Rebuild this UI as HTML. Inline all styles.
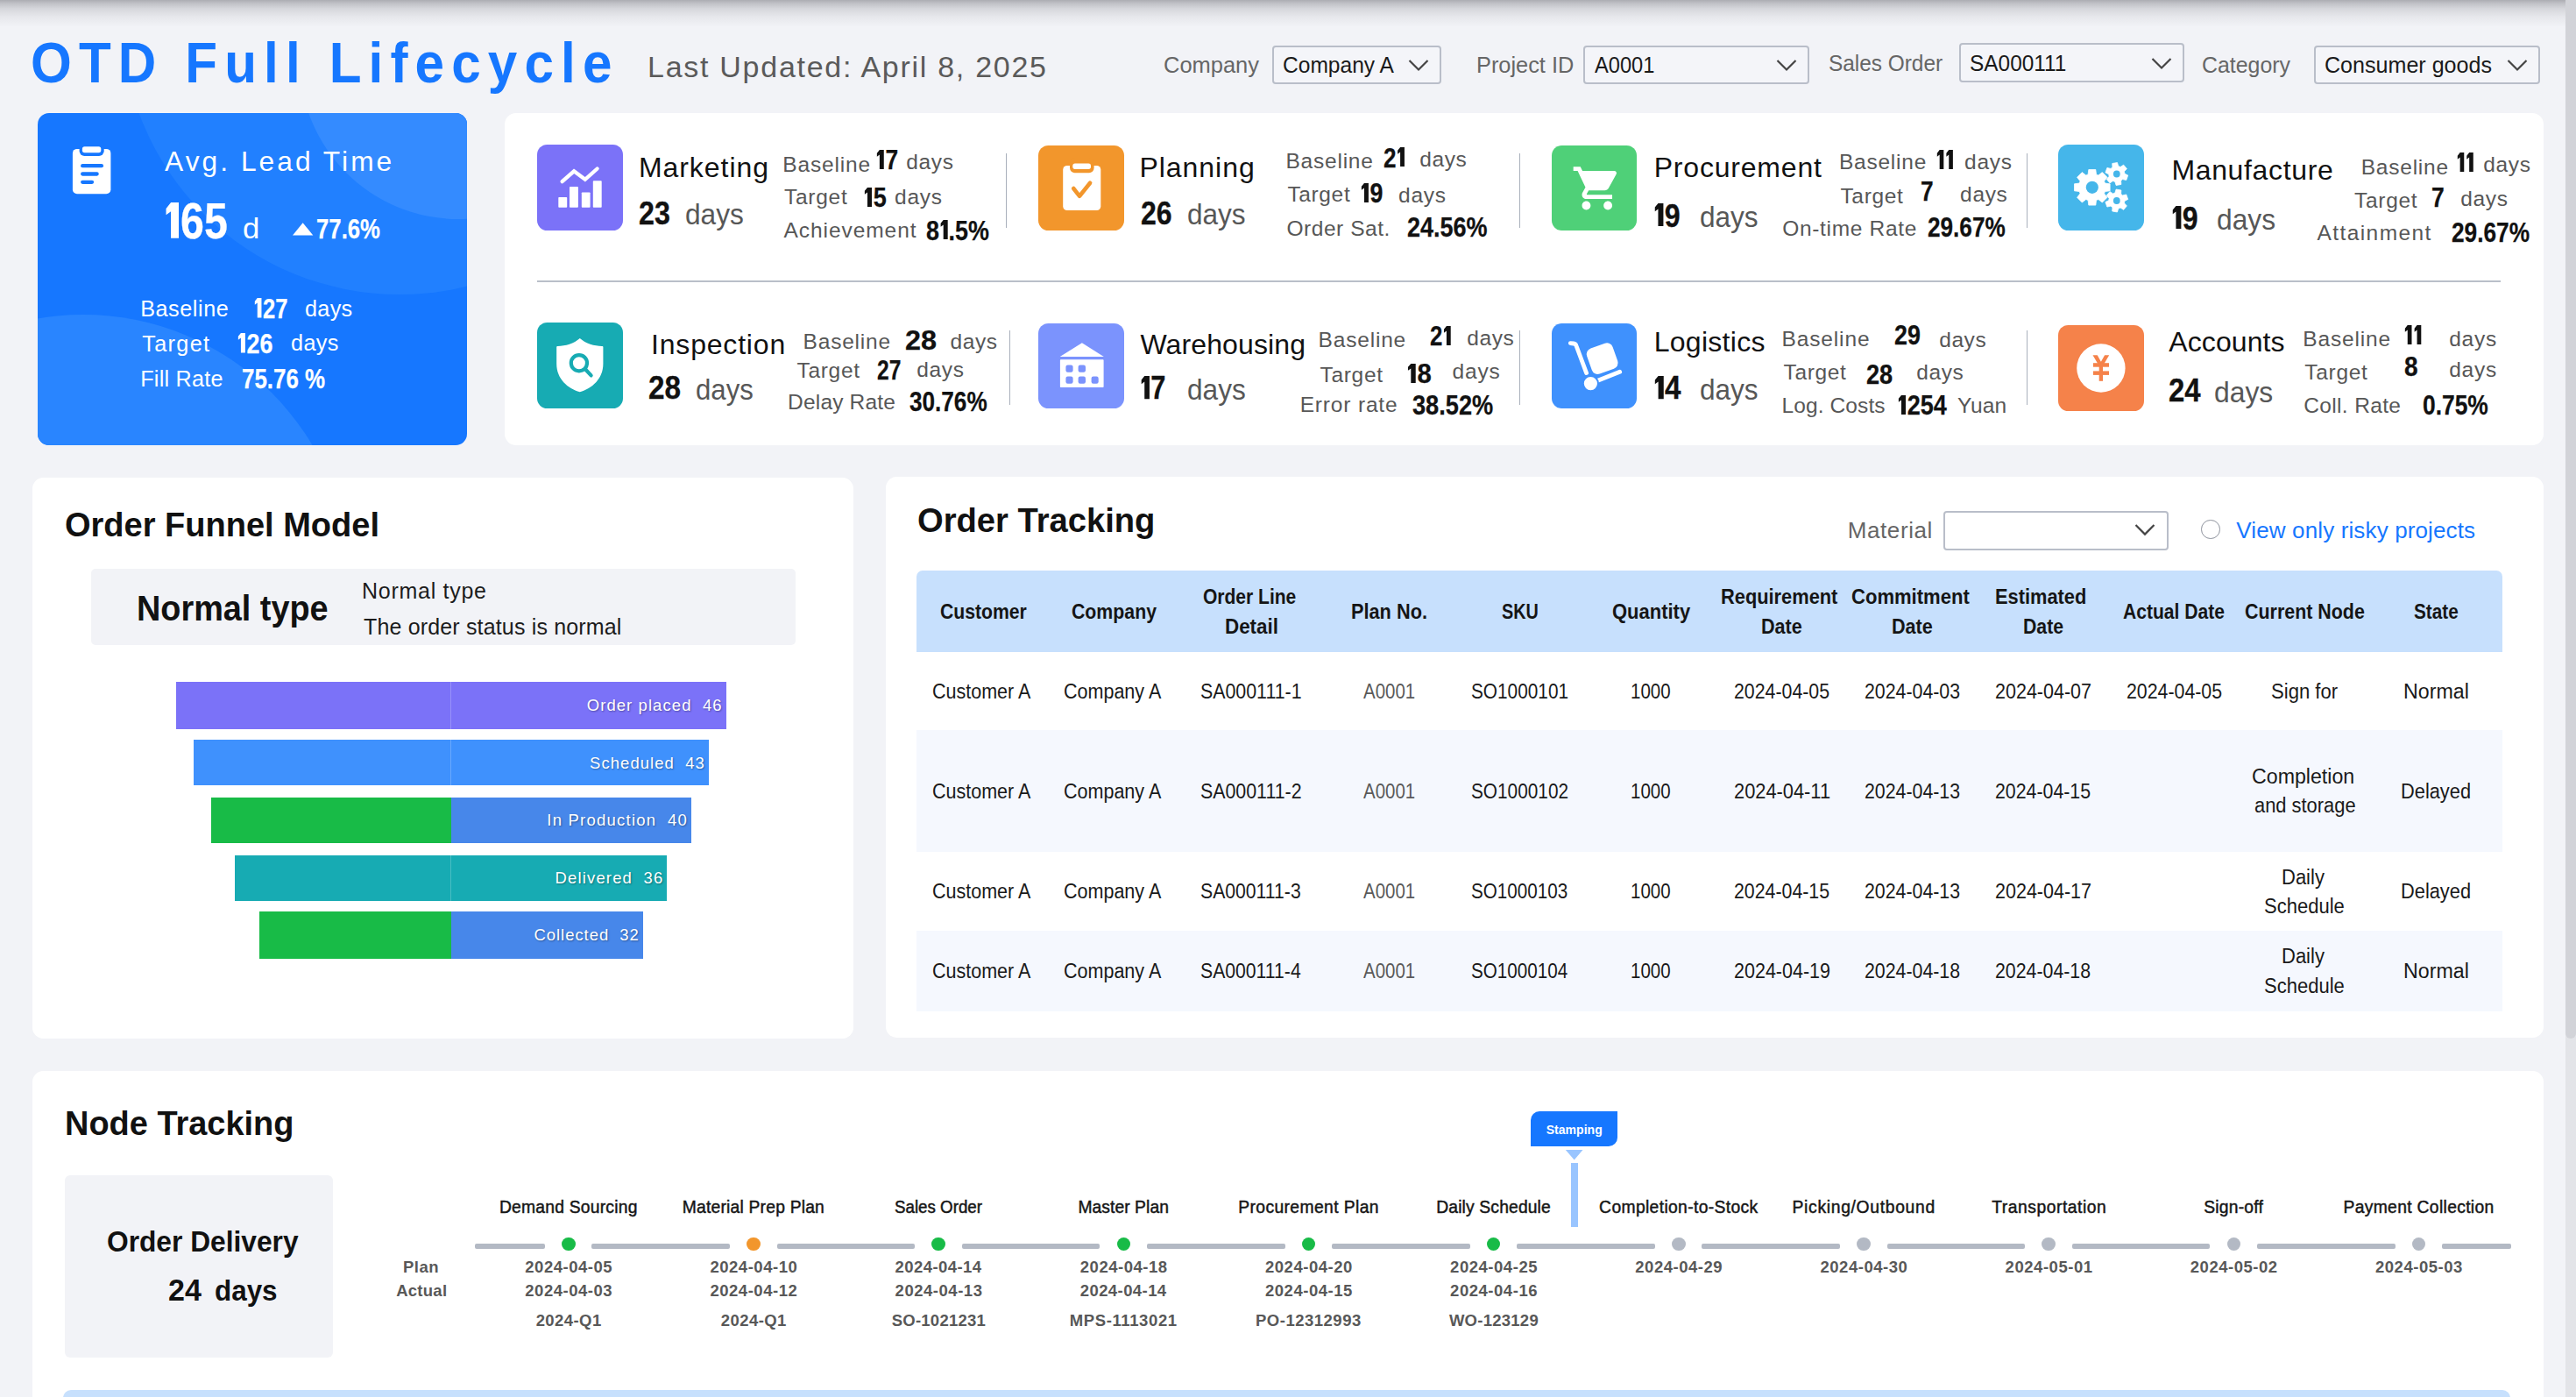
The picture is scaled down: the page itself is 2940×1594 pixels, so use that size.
<!DOCTYPE html><html><head><meta charset="utf-8"><title>OTD Full Lifecycle</title><style>

*{margin:0;padding:0;box-sizing:border-box}
html,body{width:2940px;height:1594px;overflow:hidden;background:#f2f3f7;font-family:"Liberation Sans",sans-serif;}
#root{position:relative;width:2940px;height:1594px;overflow:hidden}
.t{position:absolute;white-space:nowrap;line-height:1;transform-origin:0 50%}
svg{position:absolute;overflow:visible}
@media (max-width:1600px){#root{transform:scale(.5);transform-origin:0 0}}
svg.g1{position:static;display:inline-block;height:.716em;width:.3em;margin:0 .05em 0 .045em;vertical-align:baseline;fill:currentColor}

</style></head><body><div id="root">
<div style="position:absolute;left:0;top:0;width:2940px;height:30px;background:linear-gradient(to bottom,rgba(10,10,20,.30) 0,rgba(10,10,20,.21) 4px,rgba(10,10,20,.12) 10px,rgba(10,10,20,.05) 19px,rgba(10,10,20,0) 31px)"></div>
<div style="position:absolute;left:1452px;top:52px;width:193px;height:44px;border:2px solid #b9bec9;border-radius:4px;background:#f4f5f9"></div>
<svg style="left:1607px;top:67.0px" width="24" height="16" viewBox="0 0 24 16"><polyline points="1.5,2 12,12.5 22.5,2" fill="none" stroke="#444" stroke-width="2.2"/></svg>
<div style="position:absolute;left:1807px;top:52px;width:258px;height:44px;border:2px solid #b9bec9;border-radius:4px;background:#f4f5f9"></div>
<svg style="left:2027px;top:67.0px" width="24" height="16" viewBox="0 0 24 16"><polyline points="1.5,2 12,12.5 22.5,2" fill="none" stroke="#444" stroke-width="2.2"/></svg>
<div style="position:absolute;left:2236px;top:49px;width:257px;height:45px;border:2px solid #b9bec9;border-radius:4px;background:#f4f5f9"></div>
<svg style="left:2455px;top:64.5px" width="24" height="16" viewBox="0 0 24 16"><polyline points="1.5,2 12,12.5 22.5,2" fill="none" stroke="#444" stroke-width="2.2"/></svg>
<div style="position:absolute;left:2641px;top:52px;width:258px;height:44px;border:2px solid #b9bec9;border-radius:4px;background:#f4f5f9"></div>
<svg style="left:2861px;top:67.0px" width="24" height="16" viewBox="0 0 24 16"><polyline points="1.5,2 12,12.5 22.5,2" fill="none" stroke="#444" stroke-width="2.2"/></svg>
<div style="position:absolute;left:2928px;top:0;width:12px;height:1594px;background:#e3e4e8"></div>
<div style="position:absolute;left:2928px;top:-8px;width:12px;height:1193px;background:#d2d3d8;border-radius:6px"></div>
<div style="position:absolute;left:43px;top:129px;width:490px;height:379px;border-radius:13px;background:#1677ff;overflow:hidden">
<div style="position:absolute;left:96.4px;top:-425.8px;width:633.2px;height:633.2px;border-radius:50%;background:#2180ff"></div>
<div style="position:absolute;left:299px;top:-241px;width:362px;height:362px;border-radius:50%;background:#348bff"></div>
<div style="position:absolute;left:-251.8px;top:230.2px;width:608px;height:608px;border-radius:50%;background:#2985ff"></div>
</div>
<svg style="left:80px;top:164px" width="50" height="60" viewBox="80 164 50 60">
<rect x="82.9" y="169.9" width="43.5" height="51.3" rx="5" fill="#fff"/>
<rect x="90.6" y="160" width="28.1" height="17.9" rx="5.7" fill="#1677ff"/>
<rect x="93.9" y="167.3" width="21.4" height="6.9" rx="2.6" fill="#fff"/>
<g stroke="#1677ff" stroke-width="4.3" stroke-linecap="round"><line x1="94.2" y1="189.2" x2="115.9" y2="189.2"/><line x1="94.2" y1="198.5" x2="110.6" y2="198.5"/><line x1="94.2" y1="207.8" x2="105" y2="207.8"/></g>
</svg>
<svg style="left:333px;top:253px" width="26" height="16" viewBox="0 0 26 16"><polygon points="1,15.5 12.65,1.2 24.3,15.5" fill="#fff"/></svg>
<div style="position:absolute;left:576px;top:129px;width:2327px;height:379px;background:#fff;border-radius:13px;"></div>
<div style="position:absolute;left:613px;top:319.7px;width:2240.5px;height:2px;background:#b9bfc9;border-radius:0px;"></div>
<div style="position:absolute;left:1148.3px;top:175px;width:1.2px;height:85px;background:#a9b0bc;border-radius:0px;"></div>
<div style="position:absolute;left:1733.5px;top:175px;width:1.2px;height:85px;background:#a9b0bc;border-radius:0px;"></div>
<div style="position:absolute;left:2312.5px;top:175px;width:1.2px;height:85px;background:#a9b0bc;border-radius:0px;"></div>
<div style="position:absolute;left:1152px;top:377px;width:1.2px;height:84.5px;background:#a9b0bc;border-radius:0px;"></div>
<div style="position:absolute;left:1733.5px;top:377px;width:1.2px;height:84.5px;background:#a9b0bc;border-radius:0px;"></div>
<div style="position:absolute;left:2312.5px;top:377px;width:1.2px;height:84.5px;background:#a9b0bc;border-radius:0px;"></div>
<div style="position:absolute;left:613px;top:165px;width:98px;height:98px;border-radius:11.5px;background:#7b72f8"></div>
<svg style="left:613px;top:165px" width="98" height="98" viewBox="0 0 98 98"><g fill="#fff"><rect x="24.3" y="60" width="9.9" height="11.8" rx="0.8"/><rect x="37" y="47.9" width="9.9" height="23.9" rx="0.8"/><rect x="50.8" y="54.4" width="9.8" height="17.4" rx="0.8"/><rect x="63.8" y="41.2" width="9.9" height="30.6" rx="0.8"/></g>
<polyline points="28.6,42.1 42.1,30.3 54.8,39.8 68.6,27.5" fill="none" stroke="#fff" stroke-width="4.3" stroke-linecap="round" stroke-linejoin="miter"/></svg>
<div style="position:absolute;left:1185.3px;top:165.6px;width:97.5px;height:97.5px;border-radius:11.5px;background:#f2962c"></div>
<svg style="left:1185.3px;top:165.6px" width="97.5" height="97.5" viewBox="0 0 97.5 97.5"><rect x="28.2" y="23" width="43.1" height="51.1" rx="4.6" fill="#fff"/>
<rect x="36" y="14" width="27.6" height="17.2" rx="5.6" fill="#f2962c"/>
<rect x="39.3" y="20.6" width="20.7" height="6.3" rx="2.6" fill="#fff"/>
<polyline points="40.2,49 47.1,57.8 59.1,42.8" fill="none" stroke="#f2962c" stroke-width="4.6" stroke-linecap="round" stroke-linejoin="round"/></svg>
<div style="position:absolute;left:1771px;top:165.8px;width:97px;height:97px;border-radius:11.5px;background:#4fd078"></div>
<svg style="left:1771px;top:165.8px" width="97" height="97" viewBox="0 0 97 97"><g transform="translate(22.2,19.2) scale(2.465)" fill="#fff"><path d="M7 18c-1.1 0-1.99.9-1.99 2S5.900 22 7 22s2-.9 2-2-.9-2-2-2zM1 2v2h2l3.600 7.590-1.350 2.450c-.16.28-.25.61-.25.96 0 1.100.9 2 2 2h12v-2H7.420c-.14 0-.25-.11-.25-.25l.03-.12.9-1.630h7.450c.75 0 1.410-.41 1.750-1.030l3.580-6.490c.08-.14.12-.31.12-.48 0-.55-.45-1-1-1H5.210l-.94-2H1zm16 16c-1.100 0-1.990.9-1.990 2s.89 2 1.990 2 2-.9 2-2-.9-2-2-2z"/></g></svg>
<div style="position:absolute;left:2349px;top:165px;width:98px;height:98px;border-radius:11.5px;background:#45b6ea"></div>
<svg style="left:2349px;top:165px" width="98" height="98" viewBox="0 0 98 98"><polygon points="34.10,34.13 34.80,28.49 42.80,28.49 43.50,34.13 45.85,35.11 50.33,31.61 55.99,37.27 52.49,41.75 53.47,44.10 59.11,44.80 59.11,52.80 53.47,53.50 52.49,55.85 55.99,60.33 50.33,65.99 45.85,62.49 43.50,63.47 42.80,69.11 34.80,69.11 34.10,63.47 31.75,62.49 27.27,65.99 21.61,60.33 25.11,55.85 24.13,53.50 18.49,52.80 18.49,44.80 24.13,44.10 25.11,41.75 21.61,37.27 27.27,31.61 31.75,35.11" fill="#fff" stroke="#fff" stroke-width="0.8" stroke-linejoin="round"/><circle cx="38.8" cy="48.8" r="7.1" fill="#45b6ea"/><polygon points="61.99,25.78 61.74,21.52 67.46,20.52 68.68,24.60 71.08,25.47 74.64,23.13 78.37,27.58 75.45,30.68 75.89,33.19 79.70,35.11 77.72,40.56 73.57,39.58 71.61,41.22 71.86,45.48 66.14,46.48 64.92,42.40 62.52,41.53 58.96,43.87 55.23,39.42 58.15,36.32 57.71,33.81 53.90,31.89 55.88,26.44 60.03,27.42" fill="#fff" stroke="#fff" stroke-width="0.8" stroke-linejoin="round"/><circle cx="66.8" cy="33.5" r="3.9" fill="#45b6ea"/><polygon points="68.68,72.90 67.46,76.98 61.74,75.98 61.99,71.72 60.03,70.08 55.88,71.06 53.90,65.61 57.71,63.69 58.15,61.18 55.23,58.08 58.96,53.63 62.52,55.97 64.92,55.10 66.14,51.02 71.86,52.02 71.61,56.28 73.57,57.92 77.72,56.94 79.70,62.39 75.89,64.31 75.45,66.82 78.37,69.92 74.64,74.37 71.08,72.03" fill="#fff" stroke="#fff" stroke-width="0.8" stroke-linejoin="round"/><circle cx="66.8" cy="64.0" r="3.9" fill="#45b6ea"/></svg>
<div style="position:absolute;left:613px;top:368px;width:98px;height:98px;border-radius:11.5px;background:#17abb3"></div>
<svg style="left:613px;top:368px" width="98" height="98" viewBox="0 0 98 98"><path d="M48.8 18 C42 24 32 27 23.2 26.9 Q22.2 26.9 22.2 28 L22.2 47 C22.2 64.5 35 75.2 48.8 79.3 C62.6 75.2 75.4 64.5 75.4 47 L75.4 28 Q75.4 26.9 74.4 26.9 C65.6 27 55.6 24 48.8 18 Z" fill="#fff"/>
<circle cx="47.9" cy="46.2" r="9.1" fill="none" stroke="#17abb3" stroke-width="4.2"/><line x1="55" y1="53.3" x2="61.6" y2="60.4" stroke="#17abb3" stroke-width="4.2" stroke-linecap="round"/></svg>
<div style="position:absolute;left:1185.3px;top:368.8px;width:97.5px;height:97.5px;border-radius:11.5px;background:#7b93fd"></div>
<svg style="left:1185.3px;top:368.8px" width="97.5" height="97.5" viewBox="0 0 97.5 97.5"><polygon points="49.9,22.2 24.7,38.1 74.8,38.1" fill="#fff"/><rect x="24.9" y="41.2" width="49.7" height="31.9" rx="0.8" fill="#fff"/>
<g fill="#7b93fd"><rect x="31.4" y="47.5" width="8.2" height="8.2" rx="2.2"/><rect x="45.6" y="47.5" width="8.4" height="8.2" rx="2.2"/><rect x="31.4" y="60.6" width="8.2" height="8.2" rx="2.2"/><rect x="45.6" y="60.6" width="8.4" height="8.2" rx="2.2"/><rect x="60.6" y="60.6" width="8.1" height="8.2" rx="2.2"/></g></svg>
<div style="position:absolute;left:1771px;top:368.8px;width:97px;height:97px;border-radius:11.5px;background:#3f91fd"></div>
<svg style="left:1771px;top:368.8px" width="97" height="97" viewBox="0 0 97 97"><path d="M21.3 22.6 L25 23 Q27.3 23.3 28 25.5 L39.6 56.6" fill="none" stroke="#fff" stroke-width="4.8" stroke-linecap="round" stroke-linejoin="round"/>
<line x1="44.4" y1="68.6" x2="77.7" y2="55.3" stroke="#fff" stroke-width="4.8" stroke-linecap="round"/>
<circle cx="44.4" cy="68.6" r="8.6" fill="#fff" stroke="#3f91fd" stroke-width="2"/>
<rect x="-15.6" y="-15.4" width="31.2" height="30.8" rx="7" fill="#fff" transform="translate(57.7,40.1) rotate(-19.5)"/></svg>
<div style="position:absolute;left:2349px;top:371px;width:98px;height:98px;border-radius:11.5px;background:#f5824a"></div>
<svg style="left:2349px;top:371px" width="98" height="98" viewBox="0 0 98 98"><circle cx="48.9" cy="49" r="27.7" fill="#fff"/>
<g fill="#f5824a"><polygon points="39.5,34.2 44.7,34.2 48.9,41.8 53.1,34.2 58.2,34.2 51,46.6 46.7,46.6"/><rect x="39.9" y="43.2" width="18.1" height="4.5"/><rect x="39.9" y="52.4" width="18.1" height="4.5"/><rect x="46.7" y="44" width="4.3" height="19.8"/></g></svg>
<div style="position:absolute;left:36.5px;top:544.5px;width:937.5px;height:640px;background:#fff;border-radius:12.5px;"></div>
<div style="position:absolute;left:104px;top:649.4px;width:804px;height:87px;background:#f2f3f7;border-radius:5px;"></div>
<div style="position:absolute;left:201.1px;top:778px;width:627.8px;height:53.5px;background:#7b72f8;border-radius:0px;"></div>
<div style="position:absolute;left:514px;top:778px;width:1px;height:53.5px;background:rgba(255,255,255,.22);border-radius:0px;"></div>
<div style="position:absolute;left:220.9px;top:843.9px;width:587.9px;height:52.0px;background:#3f91fd;border-radius:0px;"></div>
<div style="position:absolute;left:514px;top:843.9px;width:1px;height:52.0px;background:rgba(255,255,255,.22);border-radius:0px;"></div>
<div style="position:absolute;left:240.7px;top:909.9px;width:548.3px;height:52.0px;background:#18bb47;border-radius:0px;"></div>
<div style="position:absolute;left:514.5px;top:909.9px;width:274.5px;height:52.0px;background:#4787ea;border-radius:0px;"></div>
<div style="position:absolute;left:268.4px;top:975.9px;width:492.6px;height:51.80000000000007px;background:#17abb3;border-radius:0px;"></div>
<div style="position:absolute;left:514px;top:975.9px;width:1px;height:51.80000000000007px;background:rgba(255,255,255,.22);border-radius:0px;"></div>
<div style="position:absolute;left:296.2px;top:1040.3px;width:437.40000000000003px;height:53.40000000000009px;background:#18bb47;border-radius:0px;"></div>
<div style="position:absolute;left:514.5px;top:1040.3px;width:219.10000000000002px;height:53.40000000000009px;background:#4787ea;border-radius:0px;"></div>
<div style="position:absolute;left:1011px;top:544px;width:1892px;height:640px;background:#fff;border-radius:12.5px;"></div>
<div style="position:absolute;left:2217.5px;top:582.5px;width:257.5px;height:45.5px;border:2px solid #b9bec9;border-radius:4px;background:#fff"></div>
<svg style="left:2436px;top:597px" width="24" height="16" viewBox="0 0 24 16"><polyline points="1.5,2 12,12.6 22.5,2" fill="none" stroke="#444" stroke-width="2.2"/></svg>
<div style="position:absolute;left:2512.4px;top:593.3px;width:21.6px;height:21.6px;border:1.6px solid #8d929c;border-radius:50%;background:#fff"></div>
<div style="position:absolute;left:1046px;top:651px;width:1810px;height:93.2px;background:#c7e0fd;border-radius:0px;border-radius:7px 7px 0 0;"></div>
<div style="position:absolute;left:1046px;top:832.7px;width:1810px;height:139px;background:#f5f8fe;border-radius:0px;"></div>
<div style="position:absolute;left:1046px;top:1061.5px;width:1810px;height:92.8px;background:#f5f8fe;border-radius:0px;"></div>
<div style="position:absolute;left:36.5px;top:1221.5px;width:2866.5px;height:420px;background:#fff;border-radius:12.5px;"></div>
<div style="position:absolute;left:74px;top:1341px;width:305.7px;height:208.2px;background:#f2f3f7;border-radius:6px;"></div>
<div style="position:absolute;left:72px;top:1586px;width:2793px;height:20px;background:#c7e0fd;border-radius:0px;border-radius:9px 9px 0 0;"></div>
<div style="position:absolute;left:542.4px;top:1418.8px;width:79.5px;height:6.4px;background:#b3b9c4;border-radius:2px;"></div>
<div style="position:absolute;left:641.00px;top:1411.90px;width:15.6px;height:15.6px;border-radius:50%;background:#18bb47"></div>
<div style="position:absolute;left:675.4px;top:1418.8px;width:157.67px;height:6.4px;background:#b3b9c4;border-radius:2px;"></div>
<div style="position:absolute;left:852.17px;top:1411.90px;width:15.6px;height:15.6px;border-radius:50%;background:#f2962c"></div>
<div style="position:absolute;left:886.57px;top:1418.8px;width:157.67px;height:6.4px;background:#b3b9c4;border-radius:2px;"></div>
<div style="position:absolute;left:1063.34px;top:1411.90px;width:15.6px;height:15.6px;border-radius:50%;background:#18bb47"></div>
<div style="position:absolute;left:1097.74px;top:1418.8px;width:157.67px;height:6.4px;background:#b3b9c4;border-radius:2px;"></div>
<div style="position:absolute;left:1274.51px;top:1411.90px;width:15.6px;height:15.6px;border-radius:50%;background:#18bb47"></div>
<div style="position:absolute;left:1308.91px;top:1418.8px;width:157.67px;height:6.4px;background:#b3b9c4;border-radius:2px;"></div>
<div style="position:absolute;left:1485.68px;top:1411.90px;width:15.6px;height:15.6px;border-radius:50%;background:#18bb47"></div>
<div style="position:absolute;left:1520.08px;top:1418.8px;width:157.67px;height:6.4px;background:#b3b9c4;border-radius:2px;"></div>
<div style="position:absolute;left:1696.85px;top:1411.90px;width:15.6px;height:15.6px;border-radius:50%;background:#18bb47"></div>
<div style="position:absolute;left:1731.25px;top:1418.8px;width:157.67px;height:6.4px;background:#b3b9c4;border-radius:2px;"></div>
<div style="position:absolute;left:1908.02px;top:1411.90px;width:15.6px;height:15.6px;border-radius:50%;background:#b3b9c4"></div>
<div style="position:absolute;left:1942.42px;top:1418.8px;width:157.67px;height:6.4px;background:#b3b9c4;border-radius:2px;"></div>
<div style="position:absolute;left:2119.19px;top:1411.90px;width:15.6px;height:15.6px;border-radius:50%;background:#b3b9c4"></div>
<div style="position:absolute;left:2153.59px;top:1418.8px;width:157.67px;height:6.4px;background:#b3b9c4;border-radius:2px;"></div>
<div style="position:absolute;left:2330.36px;top:1411.90px;width:15.6px;height:15.6px;border-radius:50%;background:#b3b9c4"></div>
<div style="position:absolute;left:2364.76px;top:1418.8px;width:157.67px;height:6.4px;background:#b3b9c4;border-radius:2px;"></div>
<div style="position:absolute;left:2541.53px;top:1411.90px;width:15.6px;height:15.6px;border-radius:50%;background:#b3b9c4"></div>
<div style="position:absolute;left:2575.93px;top:1418.8px;width:157.67px;height:6.4px;background:#b3b9c4;border-radius:2px;"></div>
<div style="position:absolute;left:2752.70px;top:1411.90px;width:15.6px;height:15.6px;border-radius:50%;background:#b3b9c4"></div>
<div style="position:absolute;left:2787.1px;top:1418.8px;width:79.4px;height:6.4px;background:#b3b9c4;border-radius:2px;"></div>
<div style="position:absolute;left:1747.1px;top:1268px;width:98.9px;height:40.2px;background:#1677ff;border-radius:0px;border-radius:10px 0 10px 0;"></div>
<svg style="left:1786px;top:1312px" width="22" height="13" viewBox="0 0 22 13"><polygon points="0.8,0.1 20.5,0.1 10.7,11.5" fill="#99c5ff"/></svg>
<div style="position:absolute;left:1793.1px;top:1326.9px;width:7.5px;height:72.9px;background:#99c5ff;border-radius:0px;"></div>
<span class="t" style="left:35.12px;top:40.00px;font-size:64px;color:#1677ff;font-weight:700;letter-spacing:8.669px;transform:scaleX(0.9400);">OTD Full Lifecycle</span>
<span class="t" style="left:739.00px;top:59.30px;font-size:34px;color:#5a5a5a;letter-spacing:1.725px;">Last Updated: April 8, 2025</span>
<span class="t" style="left:1328.02px;top:61.00px;font-size:26px;color:#666;transform:scaleX(0.9794);">Company</span>
<span class="t" style="left:1464.06px;top:61.00px;font-size:26px;color:#1a1a1a;transform:scaleX(0.9447);">Company A</span>
<span class="t" style="left:1684.55px;top:61.00px;font-size:26px;color:#666;transform:scaleX(0.9743);">Project ID</span>
<span class="t" style="left:1820.00px;top:61.00px;font-size:26px;color:#1a1a1a;transform:scaleX(0.9100);">A0001</span>
<span class="t" style="left:2086.56px;top:59.00px;font-size:26px;color:#666;transform:scaleX(0.9380);">Sales Order</span>
<span class="t" style="left:2248.06px;top:59.00px;font-size:26px;color:#1a1a1a;transform:scaleX(0.9387);">SA000111</span>
<span class="t" style="left:2512.54px;top:61.00px;font-size:26px;color:#666;transform:scaleX(0.9570);">Category</span>
<span class="t" style="left:2653.04px;top:61.00px;font-size:26px;color:#1a1a1a;transform:scaleX(0.9645);">Consumer goods</span>
<span class="t" style="left:188.10px;top:168.80px;font-size:31.7px;color:#fff;letter-spacing:3.042px;">Avg. Lead Time</span>
<span class="t" style="left:186.67px;top:223.70px;font-size:57px;color:#fff;font-weight:700;transform:scaleX(0.8475);-webkit-text-stroke:0.25px #fff;"><svg class="g1" viewBox="0 0 34 100" preserveAspectRatio="none"><path d="M13 0H34V100H13V25L0 35V17Z"/></svg>65</span>
<span class="t" style="left:276.63px;top:245.30px;font-size:32.5px;color:#fff;transform:scaleX(1.0667);">d</span>
<span class="t" style="left:361.17px;top:246.70px;font-size:30.9px;color:#fff;font-weight:700;transform:scaleX(0.8333);-webkit-text-stroke:0.25px #fff;">77.6%</span>
<span class="t" style="left:160.20px;top:339.80px;font-size:25.2px;color:#fff;letter-spacing:0.556px;">Baseline</span>
<span class="t" style="left:290.48px;top:336.90px;font-size:31.4px;color:#fff;font-weight:700;transform:scaleX(0.8134);-webkit-text-stroke:0.25px #fff;"><svg class="g1" viewBox="0 0 34 100" preserveAspectRatio="none"><path d="M13 0H34V100H13V25L0 35V17Z"/></svg>27</span>
<span class="t" style="left:348.10px;top:340.30px;font-size:25.2px;color:#fff;letter-spacing:0.263px;">days</span>
<span class="t" style="left:162.20px;top:379.90px;font-size:25.2px;color:#fff;letter-spacing:1.379px;">Target</span>
<span class="t" style="left:270.63px;top:376.90px;font-size:31.4px;color:#fff;font-weight:700;transform:scaleX(0.8537);-webkit-text-stroke:0.25px #fff;"><svg class="g1" viewBox="0 0 34 100" preserveAspectRatio="none"><path d="M13 0H34V100H13V25L0 35V17Z"/></svg>26</span>
<span class="t" style="left:332.10px;top:379.40px;font-size:25.2px;color:#fff;letter-spacing:0.363px;">days</span>
<span class="t" style="left:160.20px;top:419.50px;font-size:25.2px;color:#fff;letter-spacing:0.229px;">Fill Rate</span>
<span class="t" style="left:276.16px;top:416.90px;font-size:31.6px;color:#fff;font-weight:700;transform:scaleX(0.8203);-webkit-text-stroke:0.25px #fff;">75.76 %</span>
<span class="t" style="left:728.90px;top:175.20px;font-size:32px;color:#111;letter-spacing:0.950px;">Marketing</span>
<span class="t" style="left:728.71px;top:226.00px;font-size:36.5px;color:#111;font-weight:700;transform:scaleX(0.8825);-webkit-text-stroke:0.3px #111;">23</span>
<span class="t" style="left:781.63px;top:229.00px;font-size:32.5px;color:#575757;transform:scaleX(0.9733);">days</span>
<span class="t" style="left:893.30px;top:175.60px;font-size:24.5px;color:#575757;letter-spacing:0.821px;">Baseline</span>
<span class="t" style="left:1000.25px;top:167.60px;font-size:30.8px;color:#111;font-weight:700;transform:scaleX(0.8551);-webkit-text-stroke:0.25px #111;"><svg class="g1" viewBox="0 0 34 100" preserveAspectRatio="none"><path d="M13 0H34V100H13V25L0 35V17Z"/></svg>7</span>
<span class="t" style="left:1034.20px;top:172.60px;font-size:24.5px;color:#575757;letter-spacing:0.666px;">days</span>
<span class="t" style="left:894.90px;top:212.90px;font-size:24.5px;color:#575757;letter-spacing:0.763px;">Target</span>
<span class="t" style="left:985.52px;top:211.00px;font-size:30.8px;color:#111;font-weight:700;transform:scaleX(0.8776);-webkit-text-stroke:0.25px #111;"><svg class="g1" viewBox="0 0 34 100" preserveAspectRatio="none"><path d="M13 0H34V100H13V25L0 35V17Z"/></svg>5</span>
<span class="t" style="left:1021.10px;top:212.90px;font-size:24.5px;color:#575757;letter-spacing:0.700px;">days</span>
<span class="t" style="left:894.40px;top:251.00px;font-size:24.5px;color:#575757;letter-spacing:0.958px;">Achievement</span>
<span class="t" style="left:1057.32px;top:248.50px;font-size:30.8px;color:#111;font-weight:700;transform:scaleX(0.8741);-webkit-text-stroke:0.25px #111;">8<svg class="g1" viewBox="0 0 34 100" preserveAspectRatio="none"><path d="M13 0H34V100H13V25L0 35V17Z"/></svg>.5%</span>
<span class="t" style="left:1300.50px;top:174.70px;font-size:32px;color:#111;letter-spacing:0.950px;">Planning</span>
<span class="t" style="left:1301.72px;top:226.00px;font-size:36.5px;color:#111;font-weight:700;transform:scaleX(0.8772);-webkit-text-stroke:0.3px #111;">26</span>
<span class="t" style="left:1354.63px;top:229.00px;font-size:32.5px;color:#575757;transform:scaleX(0.9703);">days</span>
<span class="t" style="left:1467.40px;top:172.00px;font-size:24.5px;color:#575757;letter-spacing:0.792px;">Baseline</span>
<span class="t" style="left:1578.56px;top:165.50px;font-size:30.8px;color:#111;font-weight:700;transform:scaleX(0.8476);-webkit-text-stroke:0.25px #111;">2<svg class="g1" viewBox="0 0 34 100" preserveAspectRatio="none"><path d="M13 0H34V100H13V25L0 35V17Z"/></svg></span>
<span class="t" style="left:1620.30px;top:169.70px;font-size:24.5px;color:#575757;letter-spacing:0.600px;">days</span>
<span class="t" style="left:1469.40px;top:210.10px;font-size:24.5px;color:#575757;letter-spacing:0.643px;">Target</span>
<span class="t" style="left:1553.13px;top:205.90px;font-size:30.8px;color:#111;font-weight:700;transform:scaleX(0.8701);-webkit-text-stroke:0.25px #111;"><svg class="g1" viewBox="0 0 34 100" preserveAspectRatio="none"><path d="M13 0H34V100H13V25L0 35V17Z"/></svg>9</span>
<span class="t" style="left:1596.10px;top:210.90px;font-size:24.5px;color:#575757;letter-spacing:0.700px;">days</span>
<span class="t" style="left:1468.40px;top:248.50px;font-size:24.5px;color:#575757;letter-spacing:0.555px;">Order Sat.</span>
<span class="t" style="left:1606.12px;top:245.20px;font-size:30.8px;color:#111;font-weight:700;transform:scaleX(0.8769);-webkit-text-stroke:0.25px #111;">24.56%</span>
<span class="t" style="left:1887.70px;top:174.70px;font-size:32px;color:#111;letter-spacing:0.800px;">Procurement</span>
<span class="t" style="left:1886.71px;top:228.50px;font-size:36.5px;color:#111;font-weight:700;transform:scaleX(0.8829);-webkit-text-stroke:0.3px #111;"><svg class="g1" viewBox="0 0 34 100" preserveAspectRatio="none"><path d="M13 0H34V100H13V25L0 35V17Z"/></svg>9</span>
<span class="t" style="left:1939.63px;top:232.30px;font-size:32.5px;color:#575757;transform:scaleX(0.9703);">days</span>
<span class="t" style="left:2098.90px;top:173.40px;font-size:24.5px;color:#575757;letter-spacing:0.778px;">Baseline</span>
<span class="t" style="left:2210.00px;top:167.60px;font-size:30.8px;color:#111;font-weight:700;transform:scaleX(0.8124);-webkit-text-stroke:0.25px #111;"><svg class="g1" viewBox="0 0 34 100" preserveAspectRatio="none"><path d="M13 0H34V100H13V25L0 35V17Z"/></svg><svg class="g1" viewBox="0 0 34 100" preserveAspectRatio="none"><path d="M13 0H34V100H13V25L0 35V17Z"/></svg></span>
<span class="t" style="left:2242.10px;top:172.60px;font-size:24.5px;color:#575757;letter-spacing:0.700px;">days</span>
<span class="t" style="left:2100.40px;top:212.30px;font-size:24.5px;color:#575757;letter-spacing:0.683px;">Target</span>
<span class="t" style="left:2192.45px;top:204.30px;font-size:30.8px;color:#111;font-weight:700;transform:scaleX(0.8538);-webkit-text-stroke:0.25px #111;">7</span>
<span class="t" style="left:2237.10px;top:209.80px;font-size:24.5px;color:#575757;letter-spacing:0.666px;">days</span>
<span class="t" style="left:2034.20px;top:248.50px;font-size:24.5px;color:#575757;letter-spacing:0.677px;">On-time Rate</span>
<span class="t" style="left:2199.75px;top:245.20px;font-size:30.8px;color:#111;font-weight:700;transform:scaleX(0.8494);-webkit-text-stroke:0.25px #111;">29.67%</span>
<span class="t" style="left:2478.40px;top:177.70px;font-size:32px;color:#111;letter-spacing:0.652px;">Manufacture</span>
<span class="t" style="left:2477.62px;top:231.50px;font-size:36.5px;color:#111;font-weight:700;transform:scaleX(0.8797);-webkit-text-stroke:0.3px #111;"><svg class="g1" viewBox="0 0 34 100" preserveAspectRatio="none"><path d="M13 0H34V100H13V25L0 35V17Z"/></svg>9</span>
<span class="t" style="left:2530.42px;top:235.20px;font-size:32.5px;color:#575757;transform:scaleX(0.9763);">days</span>
<span class="t" style="left:2694.70px;top:178.70px;font-size:24.5px;color:#575757;letter-spacing:0.778px;">Baseline</span>
<span class="t" style="left:2803.70px;top:170.60px;font-size:30.8px;color:#111;font-weight:700;transform:scaleX(0.8078);-webkit-text-stroke:0.25px #111;"><svg class="g1" viewBox="0 0 34 100" preserveAspectRatio="none"><path d="M13 0H34V100H13V25L0 35V17Z"/></svg><svg class="g1" viewBox="0 0 34 100" preserveAspectRatio="none"><path d="M13 0H34V100H13V25L0 35V17Z"/></svg></span>
<span class="t" style="left:2834.20px;top:175.60px;font-size:24.5px;color:#575757;letter-spacing:0.700px;">days</span>
<span class="t" style="left:2687.00px;top:216.80px;font-size:24.5px;color:#575757;letter-spacing:0.703px;">Target</span>
<span class="t" style="left:2775.24px;top:210.60px;font-size:30.8px;color:#111;font-weight:700;transform:scaleX(0.8607);-webkit-text-stroke:0.25px #111;">7</span>
<span class="t" style="left:2808.20px;top:214.80px;font-size:24.5px;color:#575757;letter-spacing:0.700px;">days</span>
<span class="t" style="left:2644.40px;top:253.50px;font-size:24.5px;color:#575757;letter-spacing:1.432px;">Attainment</span>
<span class="t" style="left:2797.85px;top:250.50px;font-size:30.8px;color:#111;font-weight:700;transform:scaleX(0.8524);-webkit-text-stroke:0.25px #111;">29.67%</span>
<span class="t" style="left:743.00px;top:377.20px;font-size:32px;color:#111;letter-spacing:0.814px;">Inspection</span>
<span class="t" style="left:740.37px;top:424.80px;font-size:36.5px;color:#111;font-weight:700;transform:scaleX(0.9118);-webkit-text-stroke:0.3px #111;">28</span>
<span class="t" style="left:793.84px;top:428.50px;font-size:32.5px;color:#575757;transform:scaleX(0.9585);">days</span>
<span class="t" style="left:916.60px;top:377.60px;font-size:24.5px;color:#575757;letter-spacing:0.792px;">Baseline</span>
<span class="t" style="left:1033.40px;top:373.70px;font-size:30.8px;color:#111;font-weight:700;transform:scaleX(1.0522);-webkit-text-stroke:0.25px #111;">28</span>
<span class="t" style="left:1084.60px;top:377.60px;font-size:24.5px;color:#575757;letter-spacing:0.566px;">days</span>
<span class="t" style="left:909.50px;top:411.40px;font-size:24.5px;color:#575757;letter-spacing:0.683px;">Target</span>
<span class="t" style="left:1000.82px;top:407.90px;font-size:30.8px;color:#111;font-weight:700;transform:scaleX(0.7994);-webkit-text-stroke:0.25px #111;">27</span>
<span class="t" style="left:1046.20px;top:410.10px;font-size:24.5px;color:#575757;letter-spacing:0.700px;">days</span>
<span class="t" style="left:899.10px;top:446.80px;font-size:24.5px;color:#575757;letter-spacing:0.181px;">Delay Rate</span>
<span class="t" style="left:1038.15px;top:444.30px;font-size:30.8px;color:#111;font-weight:700;transform:scaleX(0.8484);-webkit-text-stroke:0.25px #111;">30.76%</span>
<span class="t" style="left:1301.40px;top:376.70px;font-size:32px;color:#111;letter-spacing:0.134px;">Warehousing</span>
<span class="t" style="left:1301.37px;top:424.90px;font-size:36.5px;color:#111;font-weight:700;transform:scaleX(0.8449);-webkit-text-stroke:0.3px #111;"><svg class="g1" viewBox="0 0 34 100" preserveAspectRatio="none"><path d="M13 0H34V100H13V25L0 35V17Z"/></svg>7</span>
<span class="t" style="left:1354.53px;top:428.70px;font-size:32.5px;color:#575757;transform:scaleX(0.9718);">days</span>
<span class="t" style="left:1504.60px;top:375.50px;font-size:24.5px;color:#575757;letter-spacing:0.806px;">Baseline</span>
<span class="t" style="left:1631.66px;top:368.70px;font-size:30.8px;color:#111;font-weight:700;transform:scaleX(0.8401);-webkit-text-stroke:0.25px #111;">2<svg class="g1" viewBox="0 0 34 100" preserveAspectRatio="none"><path d="M13 0H34V100H13V25L0 35V17Z"/></svg></span>
<span class="t" style="left:1674.20px;top:374.10px;font-size:24.5px;color:#575757;letter-spacing:0.633px;">days</span>
<span class="t" style="left:1506.60px;top:415.50px;font-size:24.5px;color:#575757;letter-spacing:0.663px;">Target</span>
<span class="t" style="left:1605.93px;top:411.90px;font-size:30.8px;color:#111;font-weight:700;transform:scaleX(0.9489);-webkit-text-stroke:0.25px #111;"><svg class="g1" viewBox="0 0 34 100" preserveAspectRatio="none"><path d="M13 0H34V100H13V25L0 35V17Z"/></svg>8</span>
<span class="t" style="left:1657.60px;top:412.00px;font-size:24.5px;color:#575757;letter-spacing:0.766px;">days</span>
<span class="t" style="left:1483.70px;top:450.40px;font-size:24.5px;color:#575757;letter-spacing:0.829px;">Error rate</span>
<span class="t" style="left:1612.11px;top:447.70px;font-size:30.8px;color:#111;font-weight:700;transform:scaleX(0.8828);-webkit-text-stroke:0.25px #111;">38.52%</span>
<span class="t" style="left:1887.70px;top:373.60px;font-size:32px;color:#111;letter-spacing:0.287px;">Logistics</span>
<span class="t" style="left:1886.67px;top:424.80px;font-size:36.5px;color:#111;font-weight:700;transform:scaleX(0.9082);-webkit-text-stroke:0.3px #111;"><svg class="g1" viewBox="0 0 34 100" preserveAspectRatio="none"><path d="M13 0H34V100H13V25L0 35V17Z"/></svg>4</span>
<span class="t" style="left:1939.63px;top:428.50px;font-size:32.5px;color:#575757;transform:scaleX(0.9703);">days</span>
<span class="t" style="left:2033.60px;top:374.60px;font-size:24.5px;color:#575757;letter-spacing:0.849px;">Baseline</span>
<span class="t" style="left:2161.83px;top:368.40px;font-size:30.8px;color:#111;font-weight:700;transform:scaleX(0.8721);-webkit-text-stroke:0.25px #111;">29</span>
<span class="t" style="left:2213.20px;top:376.40px;font-size:24.5px;color:#575757;letter-spacing:0.566px;">days</span>
<span class="t" style="left:2035.60px;top:412.90px;font-size:24.5px;color:#575757;letter-spacing:0.623px;">Target</span>
<span class="t" style="left:2129.81px;top:412.60px;font-size:30.8px;color:#111;font-weight:700;transform:scaleX(0.8816);-webkit-text-stroke:0.25px #111;">28</span>
<span class="t" style="left:2187.30px;top:413.40px;font-size:24.5px;color:#575757;letter-spacing:0.600px;">days</span>
<span class="t" style="left:2033.60px;top:451.00px;font-size:24.5px;color:#575757;letter-spacing:0.093px;">Log. Costs</span>
<span class="t" style="left:2166.02px;top:447.70px;font-size:30.8px;color:#111;font-weight:700;transform:scaleX(0.8767);-webkit-text-stroke:0.25px #111;"><svg class="g1" viewBox="0 0 34 100" preserveAspectRatio="none"><path d="M13 0H34V100H13V25L0 35V17Z"/></svg>254</span>
<span class="t" style="left:2233.90px;top:451.00px;font-size:24.5px;color:#575757;letter-spacing:0.120px;">Yuan</span>
<span class="t" style="left:2475.30px;top:373.60px;font-size:32px;color:#111;letter-spacing:0.096px;">Accounts</span>
<span class="t" style="left:2474.58px;top:428.20px;font-size:36.5px;color:#111;font-weight:700;transform:scaleX(0.9012);-webkit-text-stroke:0.3px #111;">24</span>
<span class="t" style="left:2527.42px;top:431.50px;font-size:32.5px;color:#575757;transform:scaleX(0.9792);">days</span>
<span class="t" style="left:2628.30px;top:374.60px;font-size:24.5px;color:#575757;letter-spacing:0.849px;">Baseline</span>
<span class="t" style="left:2743.58px;top:368.40px;font-size:30.8px;color:#111;font-weight:700;transform:scaleX(0.8309);-webkit-text-stroke:0.25px #111;"><svg class="g1" viewBox="0 0 34 100" preserveAspectRatio="none"><path d="M13 0H34V100H13V25L0 35V17Z"/></svg><svg class="g1" viewBox="0 0 34 100" preserveAspectRatio="none"><path d="M13 0H34V100H13V25L0 35V17Z"/></svg></span>
<span class="t" style="left:2795.30px;top:374.60px;font-size:24.5px;color:#575757;letter-spacing:0.700px;">days</span>
<span class="t" style="left:2630.30px;top:412.90px;font-size:24.5px;color:#575757;letter-spacing:0.683px;">Target</span>
<span class="t" style="left:2743.98px;top:404.30px;font-size:30.8px;color:#111;font-weight:700;transform:scaleX(0.9089);-webkit-text-stroke:0.25px #111;">8</span>
<span class="t" style="left:2795.30px;top:410.10px;font-size:24.5px;color:#575757;letter-spacing:0.700px;">days</span>
<span class="t" style="left:2629.30px;top:450.70px;font-size:24.5px;color:#575757;letter-spacing:0.339px;">Coll. Rate</span>
<span class="t" style="left:2765.24px;top:447.70px;font-size:30.8px;color:#111;font-weight:700;transform:scaleX(0.8570);-webkit-text-stroke:0.25px #111;">0.75%</span>
<span class="t" style="left:73.71px;top:579.60px;font-size:38.5px;color:#111;font-weight:700;transform:scaleX(0.9871);">Order Funnel Model</span>
<span class="t" style="left:155.61px;top:674.40px;font-size:40px;color:#111;font-weight:700;transform:scaleX(0.9459);">Normal type</span>
<span class="t" style="left:413.00px;top:662.20px;font-size:25px;color:#1c1c1c;letter-spacing:0.724px;">Normal type</span>
<span class="t" style="left:415.00px;top:703.10px;font-size:25px;color:#1c1c1c;letter-spacing:0.158px;">The order status is normal</span>
<span class="t" style="left:669.70px;top:795.90px;font-size:18.5px;color:#fff;letter-spacing:1.072px;text-shadow:1px 1px 2px rgba(0,0,0,.35);">Order placed&nbsp; 46</span>
<span class="t" style="left:673.10px;top:861.90px;font-size:18.5px;color:#fff;letter-spacing:1.033px;text-shadow:1px 1px 2px rgba(0,0,0,.35);">Scheduled&nbsp; 43</span>
<span class="t" style="left:624.30px;top:927.10px;font-size:18.5px;color:#fff;letter-spacing:1.226px;text-shadow:1px 1px 2px rgba(0,0,0,.35);">In Production&nbsp; 40</span>
<span class="t" style="left:633.60px;top:993.10px;font-size:18.5px;color:#fff;letter-spacing:1.140px;text-shadow:1px 1px 2px rgba(0,0,0,.35);">Delivered&nbsp; 36</span>
<span class="t" style="left:609.50px;top:1058.30px;font-size:18.5px;color:#fff;letter-spacing:0.950px;text-shadow:1px 1px 2px rgba(0,0,0,.35);">Collected&nbsp; 32</span>
<span class="t" style="left:1046.73px;top:574.10px;font-size:39.5px;color:#111;font-weight:700;transform:scaleX(0.9656);">Order Tracking</span>
<span class="t" style="left:2108.70px;top:591.80px;font-size:26px;color:#666;letter-spacing:0.601px;">Material</span>
<span class="t" style="left:2552.30px;top:591.80px;font-size:26px;color:#1677ff;letter-spacing:0.134px;">View only risky projects</span>
<span class="t" style="left:1072.70px;top:686.80px;font-size:23.5px;color:#151515;font-weight:700;transform:scaleX(0.9010);">Customer</span>
<span class="t" style="left:1222.90px;top:686.80px;font-size:23.5px;color:#151515;font-weight:700;transform:scaleX(0.9056);">Company</span>
<span class="t" style="left:1542.48px;top:686.80px;font-size:23.5px;color:#151515;font-weight:700;transform:scaleX(0.9248);">Plan No.</span>
<span class="t" style="left:1714.40px;top:686.80px;font-size:23.5px;color:#151515;font-weight:700;transform:scaleX(0.8428);">SKU</span>
<span class="t" style="left:1839.60px;top:686.80px;font-size:23.5px;color:#151515;font-weight:700;transform:scaleX(0.9355);">Quantity</span>
<span class="t" style="left:2423.40px;top:686.80px;font-size:23.5px;color:#151515;font-weight:700;transform:scaleX(0.8970);">Actual Date</span>
<span class="t" style="left:2562.40px;top:686.80px;font-size:23.5px;color:#151515;font-weight:700;transform:scaleX(0.9115);">Current Node</span>
<span class="t" style="left:2755.00px;top:686.80px;font-size:23.5px;color:#151515;font-weight:700;transform:scaleX(0.8833);">State</span>
<span class="t" style="left:1372.70px;top:670.10px;font-size:23.5px;color:#151515;font-weight:700;transform:scaleX(0.8942);">Order Line</span>
<span class="t" style="left:1397.85px;top:703.60px;font-size:23.5px;color:#151515;font-weight:700;transform:scaleX(0.9518);">Detail</span>
<span class="t" style="left:1964.07px;top:670.10px;font-size:23.5px;color:#151515;font-weight:700;transform:scaleX(0.9285);">Requirement</span>
<span class="t" style="left:2009.88px;top:703.60px;font-size:23.5px;color:#151515;font-weight:700;transform:scaleX(0.9185);">Date</span>
<span class="t" style="left:2113.30px;top:670.10px;font-size:23.5px;color:#151515;font-weight:700;transform:scaleX(0.9382);">Commitment</span>
<span class="t" style="left:2158.98px;top:703.60px;font-size:23.5px;color:#151515;font-weight:700;transform:scaleX(0.9185);">Date</span>
<span class="t" style="left:2277.47px;top:670.10px;font-size:23.5px;color:#151515;font-weight:700;transform:scaleX(0.9285);">Estimated</span>
<span class="t" style="left:2308.80px;top:703.60px;font-size:23.5px;color:#151515;font-weight:700;transform:scaleX(0.9044);">Date</span>
<span class="t" style="left:1064.29px;top:778.10px;font-size:23.5px;color:#1a1a1a;transform:scaleX(0.9150);">Customer A</span>
<span class="t" style="left:1214.48px;top:778.10px;font-size:23.5px;color:#1a1a1a;transform:scaleX(0.9156);">Company A</span>
<span class="t" style="left:1369.89px;top:778.10px;font-size:23.5px;color:#1a1a1a;transform:scaleX(0.9088);">SA000111-1</span>
<span class="t" style="left:1556.00px;top:778.10px;font-size:23.5px;color:#5a5a5a;transform:scaleX(0.8702);">A0001</span>
<span class="t" style="left:1679.21px;top:778.10px;font-size:23.5px;color:#1a1a1a;transform:scaleX(0.8851);">SO1000101</span>
<span class="t" style="left:1861.13px;top:778.10px;font-size:23.5px;color:#1a1a1a;transform:scaleX(0.8729);">1000</span>
<span class="t" style="left:1978.54px;top:778.10px;font-size:23.5px;color:#1a1a1a;transform:scaleX(0.9073);">2024-04-05</span>
<span class="t" style="left:2128.04px;top:778.10px;font-size:23.5px;color:#1a1a1a;transform:scaleX(0.9073);">2024-04-03</span>
<span class="t" style="left:2277.03px;top:778.10px;font-size:23.5px;color:#1a1a1a;transform:scaleX(0.9150);">2024-04-07</span>
<span class="t" style="left:2426.54px;top:778.10px;font-size:23.5px;color:#1a1a1a;transform:scaleX(0.9073);">2024-04-05</span>
<span class="t" style="left:2592.41px;top:778.10px;font-size:23.5px;color:#1a1a1a;transform:scaleX(0.9393);">Sign for</span>
<span class="t" style="left:2742.91px;top:778.10px;font-size:23.5px;color:#1a1a1a;transform:scaleX(0.9876);">Normal</span>
<span class="t" style="left:1064.29px;top:891.80px;font-size:23.5px;color:#1a1a1a;transform:scaleX(0.9150);">Customer A</span>
<span class="t" style="left:1214.48px;top:891.80px;font-size:23.5px;color:#1a1a1a;transform:scaleX(0.9156);">Company A</span>
<span class="t" style="left:1369.89px;top:891.80px;font-size:23.5px;color:#1a1a1a;transform:scaleX(0.9088);">SA000111-2</span>
<span class="t" style="left:1556.00px;top:891.80px;font-size:23.5px;color:#5a5a5a;transform:scaleX(0.8702);">A0001</span>
<span class="t" style="left:1679.21px;top:891.80px;font-size:23.5px;color:#1a1a1a;transform:scaleX(0.8851);">SO1000102</span>
<span class="t" style="left:1861.13px;top:891.80px;font-size:23.5px;color:#1a1a1a;transform:scaleX(0.8729);">1000</span>
<span class="t" style="left:1978.52px;top:891.80px;font-size:23.5px;color:#1a1a1a;transform:scaleX(0.9287);">2024-04-11</span>
<span class="t" style="left:2128.04px;top:891.80px;font-size:23.5px;color:#1a1a1a;transform:scaleX(0.9073);">2024-04-13</span>
<span class="t" style="left:2277.04px;top:891.80px;font-size:23.5px;color:#1a1a1a;transform:scaleX(0.9073);">2024-04-15</span>
<span class="t" style="left:2569.81px;top:875.10px;font-size:23.5px;color:#1a1a1a;transform:scaleX(0.9863);">Completion</span>
<span class="t" style="left:2572.57px;top:908.40px;font-size:23.5px;color:#1a1a1a;transform:scaleX(0.9313);">and storage</span>
<span class="t" style="left:2740.22px;top:891.80px;font-size:23.5px;color:#1a1a1a;transform:scaleX(0.9281);">Delayed</span>
<span class="t" style="left:1064.29px;top:1006.20px;font-size:23.5px;color:#1a1a1a;transform:scaleX(0.9150);">Customer A</span>
<span class="t" style="left:1214.48px;top:1006.20px;font-size:23.5px;color:#1a1a1a;transform:scaleX(0.9156);">Company A</span>
<span class="t" style="left:1369.90px;top:1006.20px;font-size:23.5px;color:#1a1a1a;transform:scaleX(0.9016);">SA000111-3</span>
<span class="t" style="left:1556.00px;top:1006.20px;font-size:23.5px;color:#5a5a5a;transform:scaleX(0.8702);">A0001</span>
<span class="t" style="left:1679.22px;top:1006.20px;font-size:23.5px;color:#1a1a1a;transform:scaleX(0.8780);">SO1000103</span>
<span class="t" style="left:1861.13px;top:1006.20px;font-size:23.5px;color:#1a1a1a;transform:scaleX(0.8729);">1000</span>
<span class="t" style="left:1978.54px;top:1006.20px;font-size:23.5px;color:#1a1a1a;transform:scaleX(0.9073);">2024-04-15</span>
<span class="t" style="left:2128.04px;top:1006.20px;font-size:23.5px;color:#1a1a1a;transform:scaleX(0.9073);">2024-04-13</span>
<span class="t" style="left:2277.03px;top:1006.20px;font-size:23.5px;color:#1a1a1a;transform:scaleX(0.9150);">2024-04-17</span>
<span class="t" style="left:2604.46px;top:989.50px;font-size:23.5px;color:#1a1a1a;transform:scaleX(0.9362);">Daily</span>
<span class="t" style="left:2584.46px;top:1022.80px;font-size:23.5px;color:#1a1a1a;transform:scaleX(0.9368);">Schedule</span>
<span class="t" style="left:2740.22px;top:1006.20px;font-size:23.5px;color:#1a1a1a;transform:scaleX(0.9281);">Delayed</span>
<span class="t" style="left:1064.29px;top:1097.10px;font-size:23.5px;color:#1a1a1a;transform:scaleX(0.9150);">Customer A</span>
<span class="t" style="left:1214.48px;top:1097.10px;font-size:23.5px;color:#1a1a1a;transform:scaleX(0.9156);">Company A</span>
<span class="t" style="left:1369.90px;top:1097.10px;font-size:23.5px;color:#1a1a1a;transform:scaleX(0.9016);">SA000111-4</span>
<span class="t" style="left:1556.00px;top:1097.10px;font-size:23.5px;color:#5a5a5a;transform:scaleX(0.8702);">A0001</span>
<span class="t" style="left:1679.22px;top:1097.10px;font-size:23.5px;color:#1a1a1a;transform:scaleX(0.8780);">SO1000104</span>
<span class="t" style="left:1861.13px;top:1097.10px;font-size:23.5px;color:#1a1a1a;transform:scaleX(0.8729);">1000</span>
<span class="t" style="left:1978.53px;top:1097.10px;font-size:23.5px;color:#1a1a1a;transform:scaleX(0.9150);">2024-04-19</span>
<span class="t" style="left:2128.04px;top:1097.10px;font-size:23.5px;color:#1a1a1a;transform:scaleX(0.9073);">2024-04-18</span>
<span class="t" style="left:2277.04px;top:1097.10px;font-size:23.5px;color:#1a1a1a;transform:scaleX(0.9073);">2024-04-18</span>
<span class="t" style="left:2604.46px;top:1080.40px;font-size:23.5px;color:#1a1a1a;transform:scaleX(0.9362);">Daily</span>
<span class="t" style="left:2584.46px;top:1113.70px;font-size:23.5px;color:#1a1a1a;transform:scaleX(0.9368);">Schedule</span>
<span class="t" style="left:2742.91px;top:1097.10px;font-size:23.5px;color:#1a1a1a;transform:scaleX(0.9876);">Normal</span>
<span class="t" style="left:73.75px;top:1262.30px;font-size:39px;color:#111;font-weight:700;transform:scaleX(0.9728);">Node Tracking</span>
<span class="t" style="left:121.62px;top:1401.40px;font-size:32.5px;color:#111;font-weight:700;transform:scaleX(0.9756);">Order Delivery</span>
<span class="t" style="left:192.24px;top:1455.30px;font-size:35.5px;color:#111;font-weight:700;transform:scaleX(0.9594);">24</span>
<span class="t" style="left:245.05px;top:1456.30px;font-size:33px;color:#111;font-weight:700;transform:scaleX(0.9511);">days</span>
<span class="t" style="left:459.90px;top:1436.70px;font-size:18.5px;color:#585858;font-weight:700;letter-spacing:0.511px;">Plan</span>
<span class="t" style="left:452.20px;top:1464.30px;font-size:18.5px;color:#585858;font-weight:700;letter-spacing:0.260px;">Actual</span>
<span class="t" style="left:569.90px;top:1368.40px;font-size:19.3px;color:#161616;letter-spacing:0.228px;-webkit-text-stroke:0.45px #161616;">Demand Sourcing</span>
<span class="t" style="left:599.25px;top:1436.70px;font-size:18.5px;color:#585858;font-weight:700;letter-spacing:0.529px;">2024-04-05</span>
<span class="t" style="left:599.25px;top:1464.30px;font-size:18.5px;color:#585858;font-weight:700;letter-spacing:0.529px;">2024-04-03</span>
<span class="t" style="left:611.65px;top:1497.80px;font-size:18.5px;color:#585858;font-weight:700;letter-spacing:0.432px;">2024-Q1</span>
<span class="t" style="left:778.82px;top:1368.40px;font-size:19.3px;color:#161616;letter-spacing:0.201px;-webkit-text-stroke:0.45px #161616;">Material Prep Plan</span>
<span class="t" style="left:810.42px;top:1436.70px;font-size:18.5px;color:#585858;font-weight:700;letter-spacing:0.529px;">2024-04-10</span>
<span class="t" style="left:810.42px;top:1464.30px;font-size:18.5px;color:#585858;font-weight:700;letter-spacing:0.529px;">2024-04-12</span>
<span class="t" style="left:822.82px;top:1497.80px;font-size:18.5px;color:#585858;font-weight:700;letter-spacing:0.432px;">2024-Q1</span>
<span class="t" style="left:1020.84px;top:1368.40px;font-size:19.3px;color:#161616;transform:scaleX(0.9724);-webkit-text-stroke:0.45px #161616;">Sales Order</span>
<span class="t" style="left:1021.59px;top:1436.70px;font-size:18.5px;color:#585858;font-weight:700;letter-spacing:0.417px;">2024-04-14</span>
<span class="t" style="left:1021.59px;top:1464.30px;font-size:18.5px;color:#585858;font-weight:700;letter-spacing:0.529px;">2024-04-13</span>
<span class="t" style="left:1017.64px;top:1497.80px;font-size:18.5px;color:#585858;font-weight:700;letter-spacing:0.264px;">SO-1021231</span>
<span class="t" style="left:1230.46px;top:1368.40px;font-size:19.3px;color:#161616;letter-spacing:0.055px;-webkit-text-stroke:0.45px #161616;">Master Plan</span>
<span class="t" style="left:1232.76px;top:1436.70px;font-size:18.5px;color:#585858;font-weight:700;letter-spacing:0.529px;">2024-04-18</span>
<span class="t" style="left:1232.76px;top:1464.30px;font-size:18.5px;color:#585858;font-weight:700;letter-spacing:0.417px;">2024-04-14</span>
<span class="t" style="left:1220.81px;top:1497.80px;font-size:18.5px;color:#585858;font-weight:700;letter-spacing:0.606px;">MPS-1113021</span>
<span class="t" style="left:1413.18px;top:1368.40px;font-size:19.3px;color:#161616;letter-spacing:0.400px;-webkit-text-stroke:0.45px #161616;">Procurement Plan</span>
<span class="t" style="left:1443.93px;top:1436.70px;font-size:18.5px;color:#585858;font-weight:700;letter-spacing:0.529px;">2024-04-20</span>
<span class="t" style="left:1443.93px;top:1464.30px;font-size:18.5px;color:#585858;font-weight:700;letter-spacing:0.529px;">2024-04-15</span>
<span class="t" style="left:1432.98px;top:1497.80px;font-size:18.5px;color:#585858;font-weight:700;letter-spacing:0.509px;">PO-12312993</span>
<span class="t" style="left:1639.25px;top:1368.40px;font-size:19.3px;color:#161616;letter-spacing:0.147px;-webkit-text-stroke:0.45px #161616;">Daily Schedule</span>
<span class="t" style="left:1655.10px;top:1436.70px;font-size:18.5px;color:#585858;font-weight:700;letter-spacing:0.529px;">2024-04-25</span>
<span class="t" style="left:1655.10px;top:1464.30px;font-size:18.5px;color:#585858;font-weight:700;letter-spacing:0.529px;">2024-04-16</span>
<span class="t" style="left:1653.90px;top:1497.80px;font-size:18.5px;color:#585858;font-weight:700;letter-spacing:0.256px;">WO-123129</span>
<span class="t" style="left:1825.12px;top:1368.40px;font-size:19.3px;color:#161616;letter-spacing:0.354px;-webkit-text-stroke:0.45px #161616;">Completion-to-Stock</span>
<span class="t" style="left:1866.27px;top:1436.70px;font-size:18.5px;color:#585858;font-weight:700;letter-spacing:0.529px;">2024-04-29</span>
<span class="t" style="left:2045.54px;top:1368.40px;font-size:19.3px;color:#161616;letter-spacing:0.694px;-webkit-text-stroke:0.45px #161616;">Picking/Outbound</span>
<span class="t" style="left:2077.44px;top:1436.70px;font-size:18.5px;color:#585858;font-weight:700;letter-spacing:0.529px;">2024-04-30</span>
<span class="t" style="left:2273.26px;top:1368.40px;font-size:19.3px;color:#161616;letter-spacing:0.532px;-webkit-text-stroke:0.45px #161616;">Transportation</span>
<span class="t" style="left:2288.61px;top:1436.70px;font-size:18.5px;color:#585858;font-weight:700;letter-spacing:0.529px;">2024-05-01</span>
<span class="t" style="left:2515.13px;top:1368.40px;font-size:19.3px;color:#161616;letter-spacing:0.237px;-webkit-text-stroke:0.45px #161616;">Sign-off</span>
<span class="t" style="left:2499.78px;top:1436.70px;font-size:18.5px;color:#585858;font-weight:700;letter-spacing:0.529px;">2024-05-02</span>
<span class="t" style="left:2674.45px;top:1368.40px;font-size:19.3px;color:#161616;letter-spacing:0.336px;-webkit-text-stroke:0.45px #161616;">Payment Collection</span>
<span class="t" style="left:2710.95px;top:1436.70px;font-size:18.5px;color:#585858;font-weight:700;letter-spacing:0.529px;">2024-05-03</span>
<span class="t" style="left:1764.70px;top:1282.30px;font-size:14px;color:#fff;font-weight:700;letter-spacing:0.039px;">Stamping</span>
</div></body></html>
